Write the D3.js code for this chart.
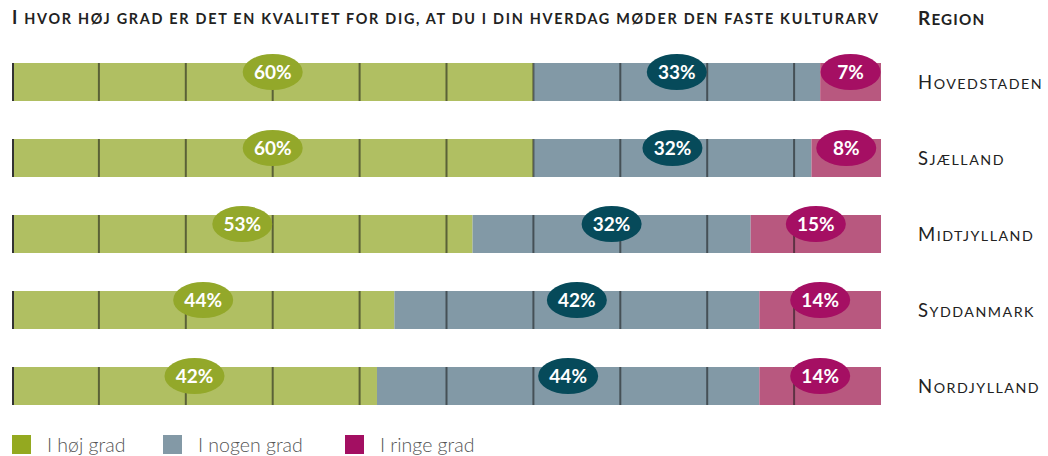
<!DOCTYPE html>
<html>
<head>
<meta charset="utf-8">
<script src="https://cdn.jsdelivr.net/npm/d3@7"></script>
<style>
  body { margin: 0; background: #fff; }
  svg { display: block; font-family: Lato, 'Open Sans', sans-serif; }
</style>
</head>
<body>
<div id="graf"></div>
<script>
// I. Data
regioner = ['Hovedstaden', 'Sjælland', 'Midtjylland', 'Syddanmark', 'Nordjylland']
hoj    = [60, 60, 53, 44, 42]
nogen  = [33, 32, 32, 42, 44]
ringe  = [7, 8, 15, 14, 14]
serier = ['I høj grad', 'I nogen grad', 'I ringe grad']
ticks  = [0, 10, 20, 30, 40, 50, 60, 70, 80, 90]

titelTekst = 'I hvor høj grad er det en kvalitet for dig, at du i din hverdag møder den faste kulturarv'

// II. Configuración
ancho_total = 1048
alto_total = 456

barFill   = ['#b0bf62', '#8299a6', '#b8587f']
labelFill = ['#93a82a', '#064a5a', '#a50f63']
legendFill = ['#94a920', '#8399a6', '#a30f62']

svg = d3.select('#graf').append('svg')
  .attr('width', ancho_total)
  .attr('height', alto_total)

x = d3.scaleLinear().domain([0, 100]).range([12, 881])
y = d3.scaleBand().domain(regioner).range([44, 424])
  .paddingInner(0.5).paddingOuter(0.25)

data = regioner.map((r, i) => {
  vals = [hoj[i], nogen[i], ringe[i]]
  let acc = 0
  segs = vals.map((v, k) => {
    s = { region: r, k: k, v: v, x0: acc, x1: acc + v }
    acc += v
    return s
  })
  return { region: r, segs: segs }
})

// small caps hechas a mano: mayúsculas a tamaño completo, minúsculas más chicas
function smallCaps(textSel, str, size, ratio) {
  runs = []
  for (ch of str) {
    big = ch !== ch.toLowerCase()
    if (runs.length && runs[runs.length - 1].big === big) runs[runs.length - 1].t += ch
    else runs.push({ big: big, t: ch })
  }
  runs.forEach(r => {
    textSel.append('tspan')
      .style('font-size', (r.big ? size : size * ratio) + 'px')
      .text(r.t.toUpperCase())
  })
}

// III. Título
titulo = svg.append('text')
  .attr('x', 12).attr('y', 24)
  .style('font-weight', 700)
  .attr('fill', '#222')
smallCaps(titulo, titelTekst, 18, 0.8)
titulo.attr('textLength', 866).attr('lengthAdjust', 'spacing')

reg = svg.append('text')
  .attr('x', 918).attr('y', 25)
  .style('font-weight', 700)
  .style('letter-spacing', '1.2px')
  .attr('fill', '#222')
smallCaps(reg, 'Region', 19, 0.8)

// IV. Barras
rows = svg.selectAll('g.row')
  .data(data)
  .enter().append('g')
  .attr('class', 'row')
  .attr('transform', d => `translate(0, ${y(d.region)})`)

rows.selectAll('rect')
  .data(d => d.segs)
  .enter().append('rect')
  .attr('x', d => x(d.x0))
  .attr('width', d => x(d.x1) - x(d.x0))
  .attr('y', 0)
  .attr('height', y.bandwidth())
  .attr('fill', d => barFill[d.k])

// gridlines on top
rows.selectAll('line.grid')
  .data(ticks)
  .enter().append('line')
  .attr('class', 'grid')
  .attr('x1', t => x(t) + (t === 0 ? 1 : 0))
  .attr('x2', t => x(t) + (t === 0 ? 1 : 0))
  .attr('y1', 0)
  .attr('y2', y.bandwidth())
  .attr('stroke', t => t === 0 ? '#333' : 'rgba(20,20,20,0.55)')
  .attr('stroke-width', 2)

// etiquetas
etiq = rows.selectAll('g.lab')
  .data(d => d.segs)
  .enter().append('g')
  .attr('class', 'lab')
  .attr('transform', d => `translate(${x((d.x0 + d.x1) / 2)}, 9)`)

etiq.append('ellipse')
  .attr('rx', 30).attr('ry', 18)
  .attr('fill', d => labelFill[d.k])

etiq.append('text')
  .attr('text-anchor', 'middle')
  .attr('y', 7)
  .style('font-size', '19px')
  .style('font-weight', 700)
  .attr('fill', '#fff')
  .text(d => d.v + '%')

// region labels
rows.each(function(d) {
  t = d3.select(this).append('text')
    .attr('x', 918)
    .attr('y', y.bandwidth() / 2 + 7)
    .style('letter-spacing', '1.5px')
    .attr('fill', '#222')
  smallCaps(t, d.region, 18.5, 0.77)
})

// V. Leyenda
legX = [12, 163, 345]
leg = svg.selectAll('g.leg')
  .data(serier)
  .enter().append('g')
  .attr('class', 'leg')
  .attr('transform', (d, i) => `translate(${legX[i]}, 435)`)

leg.append('rect')
  .attr('width', 19).attr('height', 19)
  .attr('fill', (d, i) => legendFill[i])

leg.append('text')
  .attr('x', 35).attr('y', 17)
  .style('font-size', '19.5px')
  .style('font-weight', 300)
  .attr('fill', '#555')
  .text(d => d)
</script>
</body>
</html>
